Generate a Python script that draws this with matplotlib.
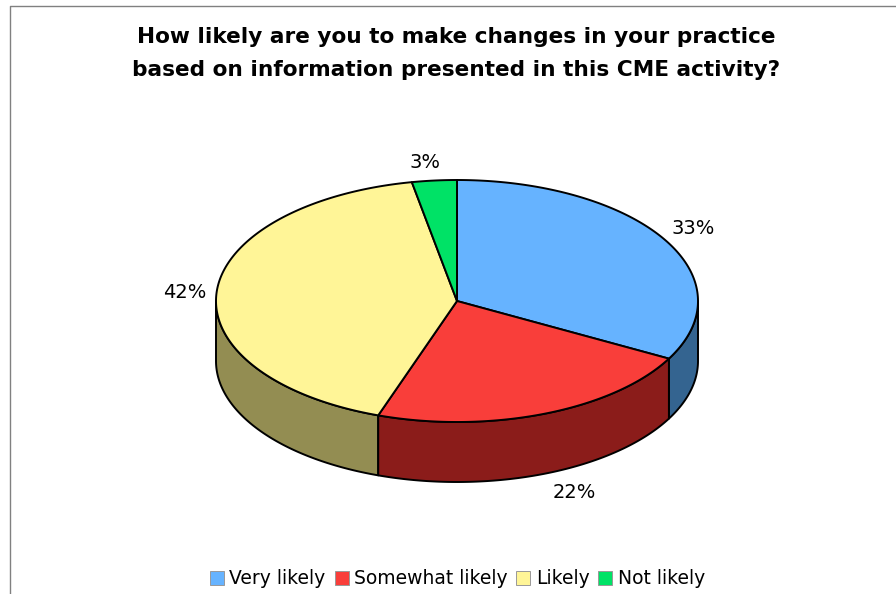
import numpy as np
import matplotlib
matplotlib.use('Agg')
import matplotlib.pyplot as plt
from matplotlib.patches import Polygon, Rectangle

title = 'How likely are you to make changes in your practice\nbased on information presented in this CME activity?'
categories = ['Very likely', 'Somewhat likely', 'Likely', 'Not likely']
values = [32.9, 22.4, 41.7, 3.0]
top_colors = ['#66B3FF', '#F93E3A', '#FFF597', '#00E266']
side_colors = ['#346490', '#8B1C1A', '#938D52', '#00803A']

# pie geometry in picture pixels
cx, cy = 457, 301
rx, ry = 241, 121
depth = 60

fig = plt.figure(figsize=(8.96, 5.94), dpi=100)
ax = fig.add_axes([0, 0, 1, 1])
ax.set_xlim(0, 896)
ax.set_ylim(594, 0)
ax.axis('off')


def rim(a0, a1):
    # angles are clockwise from the top, in degrees
    t = np.radians(np.linspace(a0, a1, max(int(abs(a1 - a0) * 2), 2)))
    return cx + rx * np.sin(t), cy - ry * np.cos(t)


# frame of the picture, left and top only
ax.plot([10, 10, 896], [594, 5.5, 5.5], color='#808080', lw=1.0)

edges = np.cumsum([0] + values) * 3.6

# side walls, only the front half (90..270) can be seen
for i in np.argsort([abs((edges[j] + edges[j + 1]) / 2 - 180) for j in range(4)])[::-1]:
    a0, a1 = max(edges[i], 90), min(edges[i + 1], 270)
    if a1 <= a0:
        continue
    x, y = rim(a0, a1)
    pts = np.r_[np.c_[x, y], np.c_[x[::-1], y[::-1] + depth]]
    ax.add_patch(Polygon(pts, closed=True, fc=side_colors[i], ec='black', lw=1.4, joinstyle='round', zorder=2))

# top slices
for i in range(4):
    x, y = rim(edges[i], edges[i + 1])
    pts = np.r_[[[cx, cy]], np.c_[x, y]]
    ax.add_patch(Polygon(pts, closed=True, fc=top_colors[i], ec='black', lw=1.4, joinstyle='round', zorder=3))

# percent labels
label_pos = [(693, 228), (574, 492), (185, 292), (425, 163)]
for v, (lx, ly) in zip(values, label_pos):
    ax.text(lx, ly, '%d%%' % round(v), fontsize=14, ha='center', va='center', color='black')

ax.text(456.5, 53.5, title, fontsize=15.6, fontweight='bold', ha='center', va='center',
        linespacing=1.78, color='black')

# legend
box_x = [210, 335, 516, 598]
text_x = [229, 354, 536, 618]
for c, col, bx, tx in zip(categories, top_colors, box_x, text_x):
    ax.add_patch(Rectangle((bx, 571), 14, 14, fc=col, ec='#999999', lw=0.7, zorder=2))
    ax.text(tx, 578, c, fontsize=13.5, ha='left', va='center', color='black')

fig.savefig('out.png', dpi=100)
